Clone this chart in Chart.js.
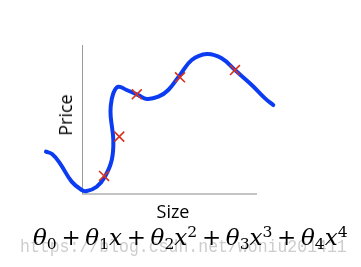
<!DOCTYPE html>
<html>
<head>
<meta charset="utf-8">
<script src="https://cdn.jsdelivr.net/npm/chart.js@4/dist/chart.umd.min.js"></script>
<style>
  html, body { margin: 0; padding: 0; background: #fff; }
  #wrap { position: relative; width: 361px; height: 267px; overflow: hidden; }
  #c { position: absolute; left: 0; top: 0; }
  .lbl { position: absolute; font-family: "Open Sans", sans-serif; font-size: 18px; color: #000; white-space: nowrap; line-height: 18px; }
  #price { left: 65px; top: 115px; transform: translate(-50%, -50%) rotate(-90deg); }
  #size { left: 173px; top: 211px; transform: translate(-50%, -50%); }
  #wm { position: absolute; left: 20px; top: 236px; font-family: "Liberation Mono", monospace; font-size: 16.5px; line-height: 20px; color: #cdcdcd; white-space: nowrap; transform: scaleY(1.15); transform-origin: left top; }
  #formula { position: absolute; left: 33px; top: 224px; font-family: "DejaVu Serif", serif; font-size: 23px; line-height: 26px; color: #000; white-space: nowrap; }
  #formula i { font-style: italic; }
  #formula .sb { font-size: 0.68em; position: relative; top: 0.24em; }
  #formula .sp { font-size: 0.68em; position: relative; top: -0.5em; }
  #formula .op { margin: 0 0.2em; }
</style>
</head>
<body>
<div id="wrap">
  <canvas id="c" width="361" height="267"></canvas>
  <div class="lbl" id="price">Price</div>
  <div class="lbl" id="size">Size</div>
  <div id="wm">https://blog.csdn.net/woniu201411</div>
  <div id="formula"><i>θ</i><span class="sb">0</span><span class="op">+</span><i>θ</i><span class="sb">1</span><i>x</i><span class="op">+</span><i>θ</i><span class="sb">2</span><i>x</i><span class="sp">2</span><span class="op">+</span><i>θ</i><span class="sb">3</span><i>x</i><span class="sp">3</span><span class="op">+</span><i>θ</i><span class="sb">4</span><i>x</i><span class="sp">4</span></div>
</div>
<script>
// Fitted curve (hand-drawn)
const curveX = [-20.6, -17.1, -12.6, -5.9, -0.2, 2.7, 8.4, 13.1, 17.0, 17.9, 16.4, 16.4, 17.9, 20.7, 25.5, 32.2, 37.0, 43.6, 49.3, 56.0, 62.7, 71.3, 79.8, 87.4, 97.0, 104.6, 109.3];
const curveY = [28.4, 26.8, 20.6, 8.3, 2.7, 2.0, 4.9, 11.6, 22.8, 36.2, 51.9, 58.6, 67.6, 72.0, 69.8, 66.4, 63.8, 65.3, 69.8, 79.9, 89.9, 94.0, 91.1, 83.2, 73.2, 64.2, 59.7];
// Training examples (red crosses)
const sizeX = [12.6, 21.3, 31.3, 56.0, 87.4];
const priceY = [12.1, 38.5, 66.9, 78.3, 83.2];
// Axis extents
const axisXEnd = 100;
const axisYEnd = 100;

const curveData = curveX.map((x, i) => ({ x: x, y: curveY[i] }));
const pointData = sizeX.map((x, i) => ({ x: x, y: priceY[i] }));

const axesPlugin = {
  id: 'axesLines',
  beforeDatasetsDraw(chart) {
    const { ctx, scales } = chart;
    const x0 = scales.x.getPixelForValue(0);
    const y0 = scales.y.getPixelForValue(0);
    const xe = scales.x.getPixelForValue(axisXEnd);
    const ye = scales.y.getPixelForValue(axisYEnd);
    ctx.save();
    ctx.strokeStyle = '#c4c4c4';
    ctx.lineWidth = 2;
    ctx.beginPath();
    ctx.moveTo(x0, y0);
    ctx.lineTo(xe, y0);
    ctx.stroke();
    ctx.strokeStyle = '#9a9a9a';
    ctx.lineWidth = 1;
    ctx.beginPath();
    ctx.moveTo(Math.round(x0) + 0.5, ye);
    ctx.lineTo(Math.round(x0) + 0.5, y0);
    ctx.stroke();
    ctx.restore();
  }
};

new Chart(document.getElementById('c'), {
  type: 'scatter',
  data: {
    datasets: [
      {
        data: curveData,
        showLine: true,
        borderColor: '#0b3cf2',
        borderWidth: 4,
        tension: 0.4,
        pointRadius: 0,
        borderCapStyle: 'round',
        borderJoinStyle: 'round',
        clip: false,
        order: 2
      },
      {
        data: pointData,
        showLine: false,
        pointStyle: 'crossRot',
        pointRadius: 7,
        borderColor: '#d8321e',
        pointBorderColor: '#d8321e',
        pointBorderWidth: 1.6,
        clip: false,
        order: 1
      }
    ]
  },
  options: {
    responsive: false,
    animation: false,
    devicePixelRatio: 1,
    layout: { padding: { left: 43.5, right: 83, top: 45, bottom: 73 } },
    plugins: { legend: { display: false }, tooltip: { enabled: false } },
    scales: {
      x: { type: 'linear', min: -22, max: 112, display: false },
      y: { type: 'linear', min: 0, max: 100, display: false }
    }
  },
  plugins: [axesPlugin]
});
</script>
</body>
</html>
